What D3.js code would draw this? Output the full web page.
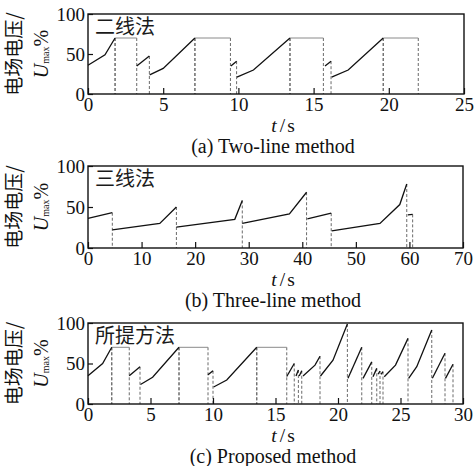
<!DOCTYPE html>
<html><head><meta charset="utf-8">
<script src="https://cdn.jsdelivr.net/npm/d3@7"></script>
<style>body{margin:0;background:#fff}svg{display:block}</style>
</head><body>
<script>
// ---------- data ----------
const yTicks = [0, 50, 100];
const xTicksTwo = [0, 5, 10, 15, 20, 25];
const xTicksThree = [0, 10, 20, 30, 40, 50, 60, 70];
const xTicksProposed = [0, 5, 10, 15, 20, 25, 30];

const panelTitles = ["二线法", "三线法", "所提方法"];
const captions = ["(a) Two-line method", "(b) Three-line method", "(c) Proposed method"];

// charging segments: [t (s), voltage (% of Umax)]
const twoLineSegments = [
  [[0, 36], [1.13, 49], [1.8, 70]],
  [[3.24, 35], [4.08, 47.5]],
  [[4.1, 24], [5.0, 32], [7.11, 70]],
  [[9.5, 35], [9.88, 41]],
  [[9.9, 21], [11.0, 30], [13.43, 70]],
  [[15.76, 35], [16.16, 41]],
  [[16.2, 21], [17.3, 30], [19.63, 70]]
];
const twoLinePlateaus = [[1.8, 3.24, 70], [7.11, 9.47, 70], [13.43, 15.65, 70], [19.63, 21.96, 70]];

const threeLineSegments = [
  [[0, 36], [4.54, 43]],
  [[4.54, 22], [13.4, 30], [16.5, 50]],
  [[16.5, 25.5], [27.4, 35], [28.8, 58]],
  [[28.8, 30], [37.6, 41.5], [40.8, 68]],
  [[40.95, 35.5], [45.4, 42.5]],
  [[45.5, 21], [54.5, 30], [58.2, 53], [59.5, 78]],
  [[59.7, 40.5], [60.6, 41]]
];
const threeLinePlateaus = [];

const proposedSegments = [
  [[0, 35], [1.17, 50], [1.9, 70]],
  [[3.3, 35], [4.16, 46]],
  [[4.2, 24], [5.17, 33], [7.28, 70]],
  [[9.6, 36], [10.0, 41]],
  [[10.05, 21], [11.1, 29.6], [13.5, 70]],
  [[15.9, 34], [16.5, 50]],
  [[16.64, 34.6], [16.83, 42]],
  [[16.9, 34.6], [17.1, 41]],
  [[17.2, 34.6], [18.16, 48], [18.56, 59]],
  [[18.6, 34.6], [19.6, 54], [20.75, 98.8]],
  [[20.8, 31.7], [21.9, 70]],
  [[22.0, 31.7], [22.7, 52]],
  [[22.8, 33.7], [23.1, 44]],
  [[23.2, 36.7], [23.36, 40.7]],
  [[23.44, 36.7], [23.6, 40]],
  [[23.7, 33.7], [24.6, 48], [25.6, 81]],
  [[25.65, 31.7], [26.3, 46], [27.5, 91.4]],
  [[27.55, 31.7], [28.56, 62.6]],
  [[28.6, 31.7], [29.2, 49]]
];
const proposedPlateaus = [[1.9, 3.3, 70], [7.28, 9.6, 70], [13.5, 15.9, 70]];

// ---------- layout ----------
const W = 476, H = 466;
const panels = [
  {segs: twoLineSegments, plats: twoLinePlateaus, xMax: 25, xTicks: xTicksTwo, top: 14, bottom: 94, right: 464},
  {segs: threeLineSegments, plats: threeLinePlateaus, xMax: 70, xTicks: xTicksThree, top: 166, bottom: 248, right: 463},
  {segs: proposedSegments, plats: proposedPlateaus, xMax: 30, xTicks: xTicksProposed, top: 323, bottom: 404, right: 463}
];
const left = 88;
const serif = "'Liberation Serif','Times New Roman',serif";
const cjk = "'Noto Sans CJK SC','Noto Sans CJK JP',sans-serif";

const svg = d3.select("body").append("svg").attr("width", W).attr("height", H);

panels.forEach((p, i) => {
  const x = d3.scaleLinear().domain([0, p.xMax]).range([left, p.right]);
  const y = d3.scaleLinear().domain([0, 100]).range([p.bottom, p.top]);
  const g = svg.append("g");

  // drop lines
  const drops = [];
  p.segs.forEach(s => drops.push(s[s.length - 1]));
  p.plats.forEach(pl => { drops.push([pl[0], pl[2]]); drops.push([pl[1], pl[2]]); });
  g.selectAll("line.drop").data(drops).join("line").attr("class", "drop")
    .attr("x1", d => x(d[0])).attr("x2", d => x(d[0]))
    .attr("y1", d => y(d[1])).attr("y2", y(0))
    .attr("stroke", "#6a6a6a").attr("stroke-width", 1).attr("stroke-dasharray", "3,2");

  // plateaus
  g.selectAll("line.plat").data(p.plats).join("line").attr("class", "plat")
    .attr("x1", d => x(d[0])).attr("x2", d => x(d[1]))
    .attr("y1", d => y(d[2])).attr("y2", d => y(d[2]))
    .attr("stroke", "#8a8a8a").attr("stroke-width", 1);

  // segments
  const line = d3.line().x(d => x(d[0])).y(d => y(d[1]));
  g.selectAll("path.seg").data(p.segs).join("path").attr("class", "seg")
    .attr("d", line).attr("fill", "none").attr("stroke", "#111").attr("stroke-width", 1.3);

  // axes
  const xa = g.append("g").attr("transform", `translate(0,${p.bottom})`)
    .call(d3.axisBottom(x).tickValues(p.xTicks).tickFormat(d3.format("d")).tickSizeInner(-6).tickSizeOuter(0).tickPadding(4));
  const ya = g.append("g").attr("transform", `translate(${left},0)`)
    .call(d3.axisLeft(y).tickValues(yTicks).tickSizeInner(-5).tickSizeOuter(0).tickPadding(3));
  [xa, ya].forEach(a => {
    a.select(".domain").remove();
    a.selectAll("line").attr("stroke", "#111").attr("stroke-width", 1.2);
    a.selectAll("text").attr("font-family", serif).attr("font-size", 19).attr("fill", "#111");
  });

  // frame
  g.append("rect").attr("x", left).attr("y", p.top)
    .attr("width", p.right - left).attr("height", p.bottom - p.top)
    .attr("fill", "none").attr("stroke", "#111").attr("stroke-width", 1.4);

  // inset title
  g.append("text").attr("x", left + 7).attr("y", p.top + 20)
    .attr("font-family", cjk).attr("font-size", 20).attr("fill", "#1a1a1a").text(panelTitles[i]);

  // x label t/s
  const xl = g.append("text").attr("x", 283).attr("y", p.bottom + 38).attr("text-anchor", "middle")
    .attr("font-family", serif).attr("font-size", 19.5).attr("fill", "#111");
  xl.append("tspan").attr("font-style", "italic").text("t");
  xl.append("tspan").attr("dx", 3).text("/");
  xl.append("tspan").attr("dx", 2).text("s");

  // caption
  g.append("text").attr("x", 273).attr("y", p.bottom + 58.5).attr("text-anchor", "middle")
    .attr("font-family", serif).attr("font-size", 20).attr("fill", "#111").text(captions[i]);

  // y label
  const cy = (p.top + p.bottom) / 2;
  g.append("text").attr("transform", `translate(21,${cy}) rotate(-90)`).attr("text-anchor", "middle")
    .attr("font-family", cjk).attr("font-size", 19).attr("fill", "#111").text("电场电压/");
  const yl = g.append("text").attr("transform", `translate(48,${cy}) rotate(-90)`).attr("text-anchor", "middle")
    .attr("font-family", serif).attr("font-size", 20).attr("fill", "#111");
  yl.append("tspan").attr("font-style", "italic").text("U");
  yl.append("tspan").attr("font-size", 10).attr("dy", 1).text("max");
  yl.append("tspan").attr("dy", -1).text("%");
});
</script>
</body></html>
